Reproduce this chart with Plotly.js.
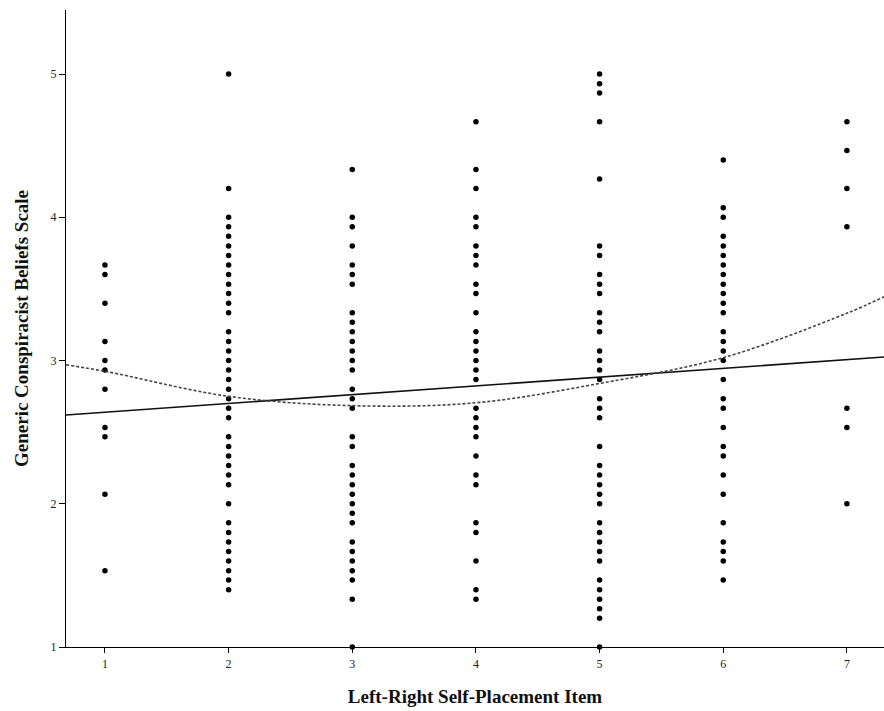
<!DOCTYPE html>
<html>
<head>
<meta charset="utf-8">
<script src="https://cdn.plot.ly/plotly-3.0.1.min.js"></script>
<style>html,body{margin:0;padding:0;background:#fff;}#chart{width:884px;height:711px;}</style>
</head>
<body>
<div id="chart"></div>
<script>
// Left-right self-placement categories
const placement = [1, 2, 3, 4, 5, 6, 7];
// Generic Conspiracist Beliefs Scale values per placement
const scores1 = [3.667, 3.6, 3.4, 3.133, 3.0, 2.933, 2.8, 2.533, 2.467, 2.067, 1.533];
const scores2 = [5.0, 4.2, 4.0, 3.933, 3.867, 3.8, 3.733, 3.667, 3.6, 3.533, 3.467, 3.4, 3.333, 3.2, 3.133, 3.067, 3.0, 2.933, 2.867, 2.8, 2.733, 2.667, 2.6, 2.467, 2.4, 2.333, 2.267, 2.2, 2.133, 2.0, 1.867, 1.8, 1.733, 1.667, 1.6, 1.533, 1.467, 1.4];
const scores3 = [4.333, 4.0, 3.933, 3.8, 3.667, 3.6, 3.533, 3.333, 3.267, 3.2, 3.133, 3.067, 3.0, 2.933, 2.8, 2.733, 2.667, 2.467, 2.4, 2.267, 2.2, 2.133, 2.067, 2.0, 1.933, 1.867, 1.733, 1.667, 1.6, 1.533, 1.467, 1.333, 1.0];
const scores4 = [4.667, 4.333, 4.2, 4.0, 3.933, 3.8, 3.733, 3.667, 3.533, 3.467, 3.333, 3.2, 3.133, 3.067, 3.0, 2.933, 2.867, 2.667, 2.6, 2.533, 2.467, 2.333, 2.2, 2.133, 1.867, 1.8, 1.6, 1.4, 1.333];
const scores5 = [5.0, 4.933, 4.867, 4.667, 4.267, 3.8, 3.733, 3.6, 3.533, 3.467, 3.333, 3.267, 3.2, 3.067, 3.0, 2.933, 2.867, 2.733, 2.667, 2.6, 2.4, 2.267, 2.2, 2.133, 2.067, 2.0, 1.867, 1.8, 1.733, 1.667, 1.6, 1.467, 1.4, 1.333, 1.267, 1.2, 1.0];
const scores6 = [4.4, 4.067, 4.0, 3.867, 3.8, 3.733, 3.667, 3.6, 3.533, 3.467, 3.4, 3.333, 3.2, 3.133, 3.067, 3.0, 2.867, 2.733, 2.667, 2.533, 2.4, 2.333, 2.2, 2.067, 1.867, 1.733, 1.667, 1.6, 1.467];
const scores7 = [4.667, 4.467, 4.2, 3.933, 2.667, 2.533, 2.0];

// Fit lines
const linearFitX = [0.685, 7.3];
const linearFitY = [2.62, 3.025];
const quadFitX = [0.685, 1, 2, 3, 4, 5, 6, 7, 7.3];
const quadFitY = [2.97, 2.925, 2.75, 2.685, 2.705, 2.84, 3.02, 3.33, 3.445];

const yTicks = [1, 2, 3, 4, 5];
const xTicks = [1, 2, 3, 4, 5, 6, 7];

const allScores = [scores1, scores2, scores3, scores4, scores5, scores6, scores7];
const px = [], py = [];
allScores.forEach((arr, i) => arr.forEach(v => { px.push(placement[i]); py.push(v); }));

const serif = "'Liberation Serif', 'Times New Roman', serif";

const traces = [
  {
    type: 'scatter', mode: 'markers', x: px, y: py,
    marker: {color: '#000', size: 5.5},
    cliponaxis: false, showlegend: false, hoverinfo: 'skip'
  },
  {
    type: 'scatter', mode: 'lines', x: linearFitX, y: linearFitY,
    line: {color: '#111', width: 1.6},
    showlegend: false, hoverinfo: 'skip'
  },
  {
    type: 'scatter', mode: 'lines', x: quadFitX, y: quadFitY,
    line: {color: '#444', width: 1.6, dash: '3px,2px', shape: 'spline', smoothing: 1},
    showlegend: false, hoverinfo: 'skip'
  }
];

const layout = {
  width: 884, height: 711,
  margin: {l: 66, r: 0, t: 10, b: 64},
  paper_bgcolor: '#fff', plot_bgcolor: '#fff',
  showlegend: false,
  xaxis: {
    range: [0.685, 7.3], tickvals: xTicks, ticktext: xTicks.map(String),
    showgrid: false, zeroline: false,
    showline: true, linecolor: '#000', linewidth: 1.2,
    ticks: 'outside', ticklen: 5, tickcolor: '#000', tickwidth: 1,
    tickfont: {family: serif, size: 12, color: '#222'},
    title: {text: 'Left-Right Self-Placement Item', font: {family: serif, size: 19, color: '#111', weight: 'bold'}, standoff: 20}
  },
  yaxis: {
    range: [1, 5.447], tickvals: yTicks, ticktext: yTicks.map(String),
    showgrid: false, zeroline: false,
    showline: true, linecolor: '#000', linewidth: 1.2,
    ticks: 'outside', ticklen: 6, tickcolor: '#000', tickwidth: 1,
    tickfont: {family: serif, size: 12, color: '#222'},
    title: {text: 'Generic Conspiracist Beliefs Scale', font: {family: serif, size: 19, color: '#111', weight: 'bold'}, standoff: 16}
  }
};

Plotly.newPlot('chart', traces, layout, {displayModeBar: false, staticPlot: true});
</script>
</body>
</html>
